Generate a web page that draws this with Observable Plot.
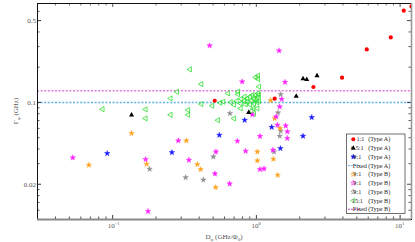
<!DOCTYPE html>
<html><head><meta charset="utf-8">
<script src="https://cdn.jsdelivr.net/npm/d3@7"></script>
<script src="https://cdn.jsdelivr.net/npm/@observablehq/plot@0.6"></script>
<style>body{margin:0;background:#fff}svg{display:block}</style>
</head><body><div id="chart"></div>
<script>
// ---- data (D_phi in GHz/Phi0, Gamma_phi in GHz) ----
const redX=[0.513,1.341,2.494,3.945,5.86,8.61,10.6,12.0];
const redY=[0.1034,0.1076,0.1354,0.1626,0.2838,0.3594,0.608,0.661];
const blackX=[0.1354,0.884,1.893,2.111,2.240,2.642];
const blackY=[0.0780,0.0820,0.1130,0.1594,0.1573,0.1691];
const blueX=[0.0917,0.2584,0.5526,0.8288,1.278,1.469,2.111,2.427];
const blueY=[0.03665,0.03738,0.0526,0.0705,0.0614,0.04045,0.0516,0.0745];
const orangeX=[0.0683,0.1354,0.1722,0.3255,0.3883,0.4094,0.5208,1.016,1.016,1.258,1.341,1.460,1.313,1.407];
const orangeY=[0.02917,0.0545,0.02975,0.0471,0.02952,0.02676,0.01877,0.0379,0.03177,0.1040,0.0730,0.0600,0.03285,0.02396];
const magentaX=[0.0528,0.1764,0.1695,0.2862,0.3393,0.4729,0.5149,0.5233,0.6517,0.7375,0.7962,0.938,0.842,1.059,1.059,1.130,1.437,1.582,1.500,1.453,1.374,1.400,1.600,1.644,1.640,1.305];
const magentaY=[0.03369,0.01175,0.0326,0.0471,0.0322,0.3052,0.02458,0.0379,0.02019,0.04678,0.1503,0.0785,0.03843,0.0514,0.02676,0.02713,0.2766,0.1488,0.1065,0.0919,0.0755,0.0641,0.0632,0.0562,0.0494,0.0392];
const grayX=[0.1807,0.3219,0.4275,0.5018,0.6548,1.476,1.414,1.476,1.453,1.326];
const grayY=[0.02697,0.02285,0.02184,0.03435,0.0805,0.1170,0.0817,0.0570,0.0516,0.0379];
const greenX=[0.0851,0.1695,0.1695,0.2530,0.2530,0.2808,0.3448,0.3350,0.3350,0.4140,0.4140,0.4922,0.5403,0.5597,0.6340,0.6623,0.6983,0.6983,0.7444,0.7444,0.7290,0.7861,0.8196,0.8289,0.8657,0.9025,0.9378,0.9622,0.9888,1.016,0.9230,0.8657,0.9622,1.016,0.9025,0.8424,0.7774,0.5891,0.9530,1.016,0.7774,1.043,1.026,1.026,0.9888,1.043,1.026,1.043,0.9888,0.9230,0.9622];
const greenY=[0.0875,0.0872,0.0730,0.1082,0.0785,0.1234,0.1914,0.0861,0.0785,0.1431,0.0969,0.0937,0.0705,0.0994,0.1194,0.1004,0.0956,0.0730,0.1234,0.1175,0.1028,0.1069,0.1028,0.1119,0.1082,0.1119,0.1157,0.1082,0.1048,0.1097,0.1028,0.1014,0.0980,0.1000,0.0961,0.0961,0.0980,0.1014,0.0889,0.0889,0.0889,0.1028,0.1691,0.1585,0.1636,0.1362,0.1194,0.1157,0.1157,0.0845,0.0800];
const fixedA=[0.1];
const fixedB=[0.126];
const xMajor=[0.1,1,10];
const xExp=["\u22121","0","1"];
const xMinor=[0.04,0.05,0.06,0.07,0.08,0.09,0.2,0.3,0.4,0.5,0.6,0.7,0.8,0.9,2,3,4,5,6,7,8,9];
const yMajor=[0.02,0.1,0.5];
const yMinor=[0.012,0.014,0.016,0.018,0.03,0.04,0.05,0.06,0.07,0.08,0.09,0.2,0.3,0.4,0.6];
const legendRatio=["1:1","6.5:1","9:1","Fixed","9:1","9:1","9:1","15:1","Fixed"];
const legendType=["(Type A)","(Type A)","(Type A)","(Type A)","(Type B)","(Type B)","(Type B)","(Type B)","(Type B)"];

// ---- layout ----
const W=415,H=242,mL=37,mR=4,mT=3,mB=23;
const pw=W-mL-mR, ph=H-mT-mB;
const pts=(xs,ys)=>xs.map((x,i)=>({x,y:ys[i]}));
const C={red:"#ff0000",black:"#000000",blue:"#1414ff",orange:"#ffa21f",magenta:"#ff1eff",gray:"#8f8f8f",green:"#2ee02e",lineA:"#5cb5e2",lineB:"#e07ae0",lineB2:"#b020b0"};
const serif="'Liberation Serif', 'Times New Roman', serif";

const plot=Plot.plot({
  width:W,height:H,marginLeft:mL,marginRight:mR,marginTop:mT,marginBottom:mB,
  x:{type:"log",domain:[0.03,12],axis:null},
  y:{type:"log",domain:[0.01,0.7],axis:null},
  style:{fontFamily:serif,fontSize:"7px",background:"white",overflow:"visible"},
  marks:[
    Plot.ruleY(fixedB,{y:d=>d,stroke:C.lineB,strokeWidth:1.6,strokeDasharray:"2,1.6"}),
    Plot.ruleY(fixedA,{y:d=>d,stroke:C.lineA,strokeWidth:1.6,strokeDasharray:"2,1.6"}),
    Plot.tickX(xMinor,{x:d=>d,insetTop:ph-2.5,stroke:"#222",strokeWidth:0.8}),
    Plot.tickX(xMajor,{x:d=>d,insetTop:ph-4,stroke:"#222",strokeWidth:0.9}),
    Plot.tickX(xMinor,{x:d=>d,insetBottom:ph-2.5,stroke:"#555",strokeWidth:0.8}),
    Plot.tickX(xMajor,{x:d=>d,insetBottom:ph-4,stroke:"#777",strokeWidth:1.2}),
    Plot.tickY(yMinor,{y:d=>d,insetRight:pw-2.5,stroke:"#222",strokeWidth:0.8}),
    Plot.tickY(yMajor,{y:d=>d,insetRight:pw-4,stroke:"#222",strokeWidth:0.9}),
    Plot.tickY(yMinor,{y:d=>d,insetLeft:pw-2.5,stroke:"#333",strokeWidth:0.8}),
    Plot.tickY(yMajor,{y:d=>d,insetLeft:pw-4,stroke:"#333",strokeWidth:0.9}),
    Plot.frame({stroke:"#111",strokeWidth:1}),
    Plot.ruleY([0.01],{y:d=>d,stroke:"#888",strokeWidth:2}),
    Plot.ruleX([12],{x:d=>d,stroke:"#999",strokeWidth:1.6}),
    Plot.axisY({ticks:yMajor,tickSize:0,tickPadding:1.5,tickFormat:d=>String(d),label:null,fill:"#555"}),
    Plot.text(xMajor,{x:d=>d,text:()=>"10",frameAnchor:"bottom",lineAnchor:"top",dy:3.5,dx:-1.5,fill:"#555",fontSize:7}),
    Plot.text(xMajor,{x:d=>d,text:(d,i)=>xExp[i],frameAnchor:"bottom",lineAnchor:"top",dy:2,dx:2,textAnchor:"start",fill:"#555",fontSize:4.6}),
    Plot.dot(pts(greenX,greenY),{x:"x",y:"y",symbol:"triangle",rotate:-90,r:1.9,stroke:C.green,strokeWidth:0.8,fill:"none"}),
    Plot.dot(pts(grayX,grayY),{x:"x",y:"y",symbol:"star",r:1.75,fill:C.gray,stroke:C.gray,strokeWidth:0.4}),
    Plot.dot(pts(orangeX,orangeY),{x:"x",y:"y",symbol:"star",r:1.75,fill:C.orange,stroke:C.orange,strokeWidth:0.4}),
    Plot.dot(pts(magentaX,magentaY),{x:"x",y:"y",symbol:"star",r:1.75,fill:C.magenta,stroke:C.magenta,strokeWidth:0.4}),
    Plot.dot(pts(blueX,blueY),{x:"x",y:"y",symbol:"star",r:1.75,fill:C.blue,stroke:C.blue,strokeWidth:0.4}),
    Plot.dot(pts(blackX,blackY),{x:"x",y:"y",symbol:"triangle",r:1.9,fill:C.black,stroke:"none"}),
    Plot.dot(pts(redX,redY),{x:"x",y:"y",r:2.1,fill:C.red,stroke:"none",clip:true})
  ]
});
document.getElementById("chart").appendChild(plot);

// ---- titles ----
const svg=d3.select(plot);
const yt=svg.append("text").attr("transform","translate(18,111) rotate(-90)")
  .attr("text-anchor","middle").style("font-family",serif).attr("font-size",7).attr("fill","#555");
yt.append("tspan").text("\u0393");
yt.append("tspan").attr("font-size",5).attr("dy",1.5).text("\u03c6");
yt.append("tspan").attr("dy",-1.5).text(" (GHz)");
const xt=svg.append("text").attr("x",224).attr("y",239).attr("text-anchor","middle")
  .style("font-family",serif).attr("font-size",7).attr("fill","#555");
xt.append("tspan").text("D");
xt.append("tspan").attr("font-size",5).attr("dy",1.5).text("\u03c6");
xt.append("tspan").attr("dy",-1.5).text(" (GHz/\u03a6");
xt.append("tspan").attr("font-size",5).attr("dy",1.5).text("0");
xt.append("tspan").attr("dy",-1.5).text(")");

// ---- legend ----
const lg=svg.append("g").style("font-family",serif).style("font-size","6.2px").attr("fill","#222");
lg.append("rect").attr("x",346.5).attr("y",134).attr("width",58.5).attr("height",79.5)
  .attr("fill","white").attr("stroke","#333").attr("stroke-width",0.7);
const sym=(type,r)=>d3.symbol(type,Math.PI*r*r)();
const legendMarks=[
  {kind:"sym",type:d3.symbolCircle,r:2.0,fill:C.red,stroke:"none"},
  {kind:"sym",type:d3.symbolTriangle,r:1.8,fill:C.black,stroke:"none"},
  {kind:"sym",type:d3.symbolStar,r:1.5,fill:C.blue,stroke:C.blue},
  {kind:"line",stroke:C.lineA},
  {kind:"sym",type:d3.symbolStar,r:1.6,fill:"none",stroke:C.orange},
  {kind:"sym",type:d3.symbolStar,r:1.6,fill:"none",stroke:C.magenta},
  {kind:"sym",type:d3.symbolStar,r:1.6,fill:"none",stroke:C.gray},
  {kind:"sym",type:d3.symbolTriangle,r:1.8,fill:"none",stroke:C.green,rot:-90},
  {kind:"line",stroke:C.lineB2}
];
legendRatio.forEach((lab,i)=>{
  const cy=139.3+i*8.75, m=legendMarks[i];
  if(m.kind==="line"){
    lg.append("line").attr("x1",348).attr("x2",359.5).attr("y1",cy).attr("y2",cy)
      .attr("stroke",m.stroke).attr("stroke-width",0.9).attr("stroke-dasharray","2,1");
  } else {
    lg.append("path").attr("d",sym(m.type,m.r))
      .attr("transform",`translate(353.3,${cy})`+(m.rot?` rotate(${m.rot})`:""))
      .attr("fill",m.fill).attr("stroke",m.stroke).attr("stroke-width",0.6);
  }
  const tx = lab==="Fixed"?359.8:(lab==="1:1"?360.5:357.3);
  lg.append("text").attr("x",tx).attr("y",cy).attr("dy","0.35em").text(lab);
  lg.append("text").attr("x",379.2).attr("y",cy).attr("dy","0.35em").text(legendType[i]);
});
</script>
</body></html>
